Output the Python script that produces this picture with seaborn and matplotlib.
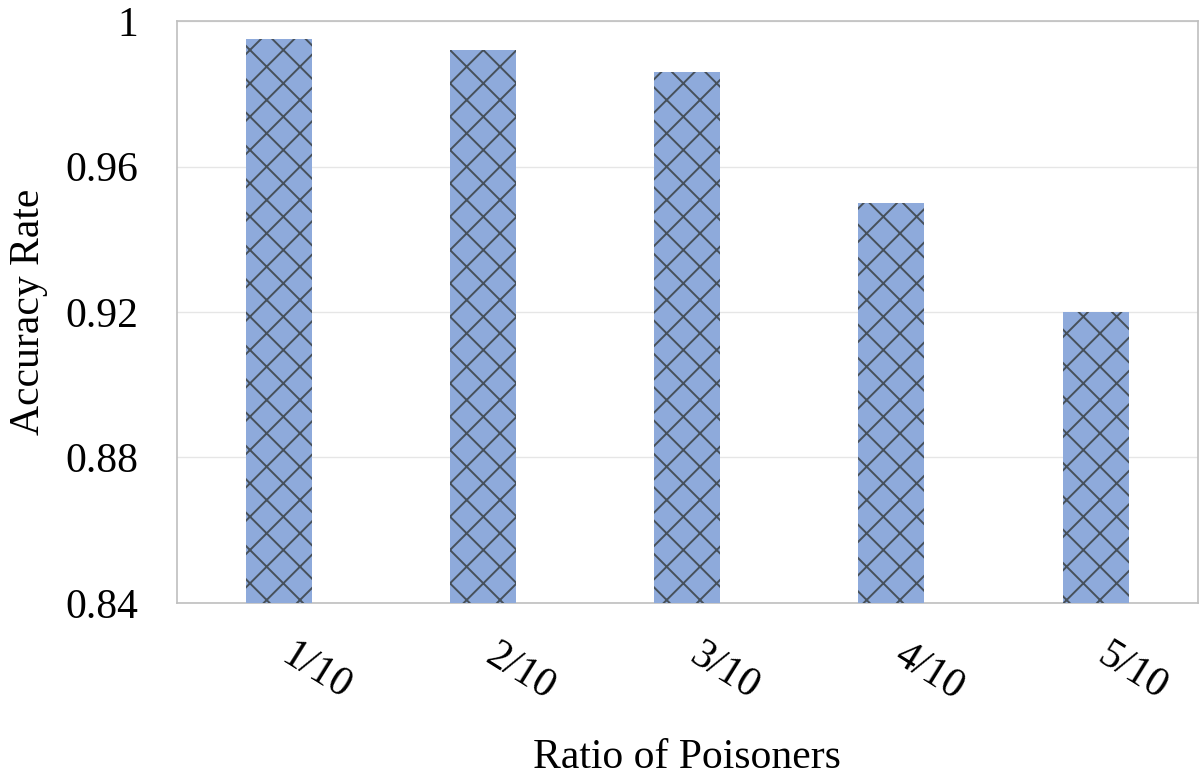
import matplotlib
matplotlib.use("Agg")
import matplotlib.pyplot as plt
import matplotlib.transforms as mtransforms
import seaborn as sns
import pandas as pd

categories = ["1/10", "2/10", "3/10", "4/10", "5/10"]
accuracy = [0.995, 0.992, 0.986, 0.950, 0.920]
yticks = [0.84, 0.88, 0.92, 0.96, 1.0]
ytick_labels = ["0.84", "0.88", "0.92", "0.96", "1"]

sns.set_theme(style="white")
plt.rcParams["font.family"] = ["Liberation Serif", "DejaVu Serif"]
plt.rcParams["hatch.linewidth"] = 1.4
plt.rcParams["text.color"] = "black"
plt.rcParams["axes.labelcolor"] = "black"
plt.rcParams["xtick.color"] = "black"
plt.rcParams["ytick.color"] = "black"

df = pd.DataFrame({"ratio": categories, "acc": accuracy})

fig = plt.figure(figsize=(12, 7.8), dpi=100)
ax = fig.add_axes([0.1475, 0.227, 0.8505, 0.746])

sns.barplot(data=df, x="ratio", y="acc", ax=ax, color="#8eaadb",
            width=0.323, saturation=1, edgecolor="#46505a", linewidth=0,
            hatch="x", zorder=3)
for p in ax.patches:
    p.set_hatch("x")
    p.set_edgecolor("#46505a")
    p.set_linewidth(0)

ax.set_xlim(-0.5, 4.5)
ax.set_ylim(0.84, 1.0)
ax.set_yticks(yticks)
ax.set_yticklabels(ytick_labels)
ax.yaxis.grid(True, color="#e6e6e6", linewidth=1.0, zorder=0)
ax.xaxis.grid(False)
for s in ax.spines.values():
    s.set_color("#bfbfbf")
    s.set_linewidth(1.2)
ax.tick_params(axis="y", length=0, pad=28, labelsize=30)
ax.tick_params(axis="x", length=0, pad=24, labelsize=30)
offset = mtransforms.ScaledTranslation(0.16, 0, fig.dpi_scale_trans)
for lab in ax.get_xticklabels():
    lab.set_rotation(-32)
    lab.set_ha("left")
    lab.set_rotation_mode("anchor")
    lab.set_transform(lab.get_transform() + offset)

ax.set_xlabel("Ratio of Poisoners", fontsize=30, labelpad=22)
ax.set_ylabel("Accuracy Rate", fontsize=30, labelpad=12)

fig.savefig("out.png", dpi=100)
